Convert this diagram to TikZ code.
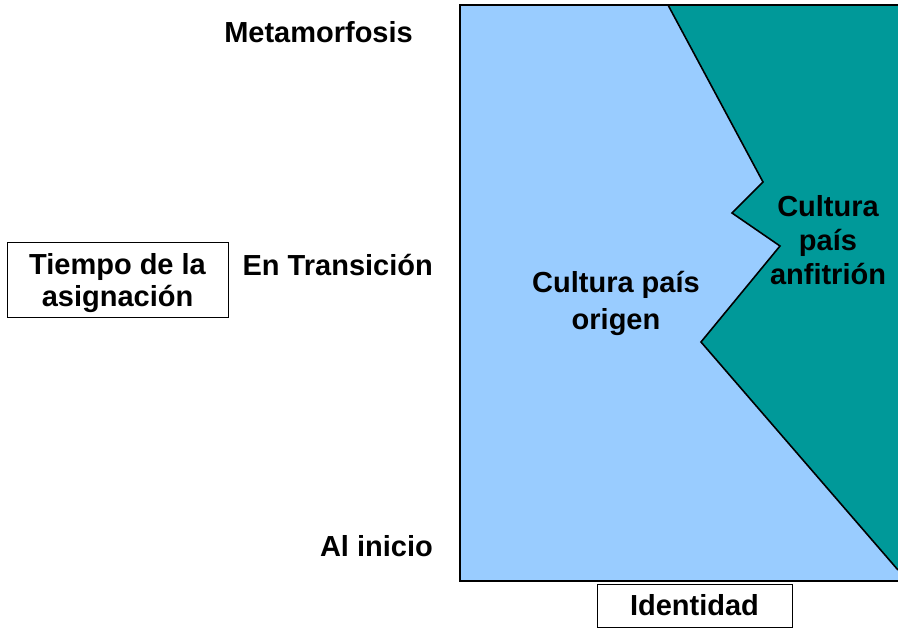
\documentclass[tikz,border=0pt]{standalone}
\usepackage{fontspec}
\setmainfont{Liberation Sans}
\definecolor{lightblue}{HTML}{99CCFF}
\definecolor{teal2}{HTML}{009999}
\tikzset{
  lbl/.style={font=\bfseries\fontsize{29}{34}\selectfont, inner sep=0pt},
  boxed/.style={draw=black, line width=0.8pt, fill=white, inner sep=0pt},
  edge/.style={draw=black, line width=1.6pt, line join=miter},
}
\begin{document}
\begin{tikzpicture}[x=1pt,y=-1pt]
\useasboundingbox (0,0) rectangle (898,628);
\fill[white] (0,0) rectangle (898,628);
% regions
\fill[lightblue] (460,5) -- (668,5) -- (763,182) -- (732,213) -- (780,246) -- (701,342) -- (898,570) -- (898,581) -- (460,581) -- cycle;
\fill[teal2] (668,5) -- (898,5) -- (898,570) -- (701,342) -- (780,246) -- (732,213) -- (763,182) -- cycle;
\draw[edge] (668,5) -- (763,182) -- (732,213) -- (780,246) -- (701,342) -- (898,570);
\draw[edge] (898,5) -- (460,5) -- (460,581) -- (898,581);
% axis labels
\node[lbl, anchor=east] (meta) at (413,32) {Metamorfosis};
\node[lbl, anchor=east] (trans) at (433,265) {En Transición};
\node[lbl, anchor=east] (inicio) at (433,546) {Al inicio};
% region labels
\node[lbl, align=center] (origen) at (616,303) {Cultura país\\[3pt]origen};
\node[lbl, align=center] (anfi) at (828,240) {Cultura\\país\\anfitrión};
% boxes
\node[boxed, minimum width=221pt, minimum height=75pt] (tiempobox) at (117.5,279.5) {};
\node[lbl, align=center, font=\bfseries\fontsize{29}{32.5}\selectfont] (tiempo) at (117.5,283) {Tiempo de la\\asignación};
\node[boxed, lbl, minimum width=195pt, minimum height=43pt] (ident) at (694.5,605.5) {Identidad};
\end{tikzpicture}
\end{document}
